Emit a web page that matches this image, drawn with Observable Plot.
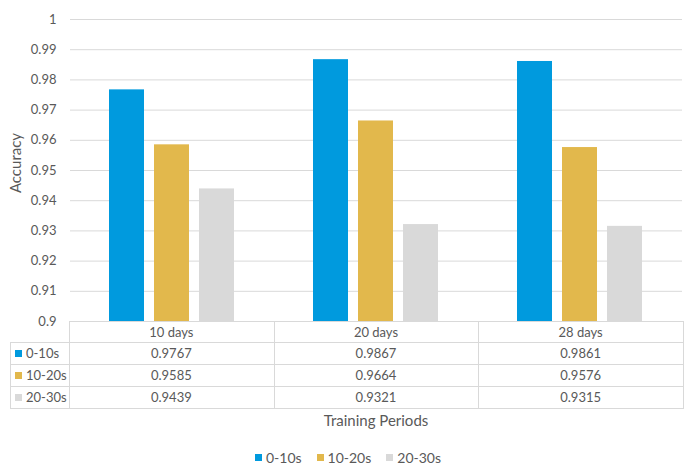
<!DOCTYPE html>
<html>
<head>
<meta charset="utf-8">
<script src="https://cdn.jsdelivr.net/npm/d3@7"></script>
<script src="https://cdn.jsdelivr.net/npm/@observablehq/plot@0.6"></script>
<style>
  html, body { margin: 0; padding: 0; background: #fff; }
  #wrap { position: relative; width: 696px; height: 469px; font-family: Lato, "Open Sans", sans-serif; color: #595959; overflow: hidden; }
  #wrap svg { position: absolute; left: 0; top: 0; }
  .hl { position: absolute; height: 1px; background: #d9d9d9; }
  .vl { position: absolute; width: 1px; background: #d9d9d9; }
  .cell { position: absolute; display: flex; align-items: center; justify-content: center; font-size: 13px; white-space: nowrap; }
  .lcell { position: absolute; display: flex; align-items: center; font-size: 13px; white-space: nowrap; }
  .sw { display: inline-block; width: 7px; height: 7px; margin-right: 4px; }
</style>
</head>
<body>
<div id="wrap"></div>
<script>
// ---- data ----
const periods = ["10 days", "20 days", "28 days"];
const seriesNames = ["0-10s", "10-20s", "20-30s"];
const acc0to10 = [0.9767, 0.9867, 0.9861];
const acc10to20 = [0.9585, 0.9664, 0.9576];
const acc20to30 = [0.9439, 0.9321, 0.9315];
const yTicks = [0.9, 0.91, 0.92, 0.93, 0.94, 0.95, 0.96, 0.97, 0.98, 0.99, 1];
const yLabel = "Accuracy";
const xLabel = "Training Periods";

const seriesValues = [acc0to10, acc10to20, acc20to30];
const colors = ["#009ADE", "#E2B84C", "#D9D9D9"];

const data = [];
periods.forEach((p, i) => seriesNames.forEach((s, j) => data.push({period: p, series: s, value: seriesValues[j][i]})));

// ---- layout ----
const W = 696, mL = 69, mR = 13, mT = 19, plotBottom = 321;
const wrap = document.getElementById("wrap");

const chart = Plot.plot({
  width: W,
  height: 330,
  marginTop: mT,
  marginBottom: 330 - plotBottom,
  marginLeft: mL,
  marginRight: mR,
  style: {fontFamily: "Lato, 'Open Sans', sans-serif", fontSize: "13px", color: "#595959", background: "transparent"},
  fx: {domain: periods, padding: 0, axis: null, label: null},
  x: {domain: seriesNames, paddingInner: 0.217, paddingOuter: 0.833, axis: null},
  y: {domain: [0.9, 1], ticks: yTicks, tickFormat: d => String(+d.toFixed(2)), tickSize: 0, tickPadding: 14, label: null},
  color: {domain: seriesNames, range: colors},
  marks: [
    Plot.ruleY(yTicks, {stroke: "#d9d9d9", strokeWidth: 1}),
    Plot.barY(data, {fx: "period", x: "series", y1: 0.9, y2: "value", fill: "series"})
  ]
});
wrap.appendChild(chart);

// ---- data table under the plot ----
const colEdges = [10, mL];
const innerW = (W - mR - mL) / periods.length;
periods.forEach((p, i) => colEdges.push(mL + innerW * (i + 1)));
const rowEdges = [plotBottom, 342, 364, 386, 408];

function add(cls, css, html) {
  const d = document.createElement("div");
  d.className = cls;
  Object.assign(d.style, css);
  if (html !== undefined) d.innerHTML = html;
  wrap.appendChild(d);
  return d;
}
// horizontal lines
rowEdges.forEach((y, k) => {
  const x0 = k === 0 ? mL : 10;
  add("hl", {left: x0 + "px", top: y + "px", width: (W - mR - x0 + 1) + "px"});
});
// vertical lines
colEdges.forEach((x, k) => {
  const y0 = k === 0 ? rowEdges[1] : rowEdges[0];
  add("vl", {left: Math.round(x) + "px", top: y0 + "px", height: (rowEdges[4] - y0 + 1) + "px"});
});
// header
periods.forEach((p, i) => {
  add("cell", {left: colEdges[i + 1] + "px", top: rowEdges[0] + "px", width: innerW + "px", height: (rowEdges[1] - rowEdges[0]) + "px"}, p);
});
// rows
seriesNames.forEach((s, j) => {
  const top = rowEdges[j + 1], h = rowEdges[j + 2] - rowEdges[j + 1];
  add("lcell", {left: "15px", top: top + "px", height: h + "px"}, `<span class="sw" style="background:${colors[j]}"></span>${s}`);
  periods.forEach((p, i) => {
    add("cell", {left: colEdges[i + 1] + "px", top: top + "px", width: innerW + "px", height: h + "px"}, String(seriesValues[j][i]));
  });
});

// axis titles
add("cell", {left: mL + "px", top: "409px", width: (W - mR - mL) + "px", height: "22px", fontSize: "15px"}, xLabel);
add("cell", {left: "-35px", top: "153px", width: "100px", height: "20px", fontSize: "15px", transform: "rotate(-90deg)"}, yLabel);

// legend
const leg = add("cell", {left: "0px", top: "448px", width: W + "px", height: "18px", fontSize: "14px"});
seriesNames.forEach((s, j) => {
  const it = document.createElement("span");
  it.style.marginRight = j < seriesNames.length - 1 ? "15px" : "0";
  it.style.display = "inline-flex";
  it.style.alignItems = "center";
  it.innerHTML = `<span class="sw" style="background:${colors[j]}"></span>${s}`;
  leg.appendChild(it);
});
</script>
</body>
</html>
